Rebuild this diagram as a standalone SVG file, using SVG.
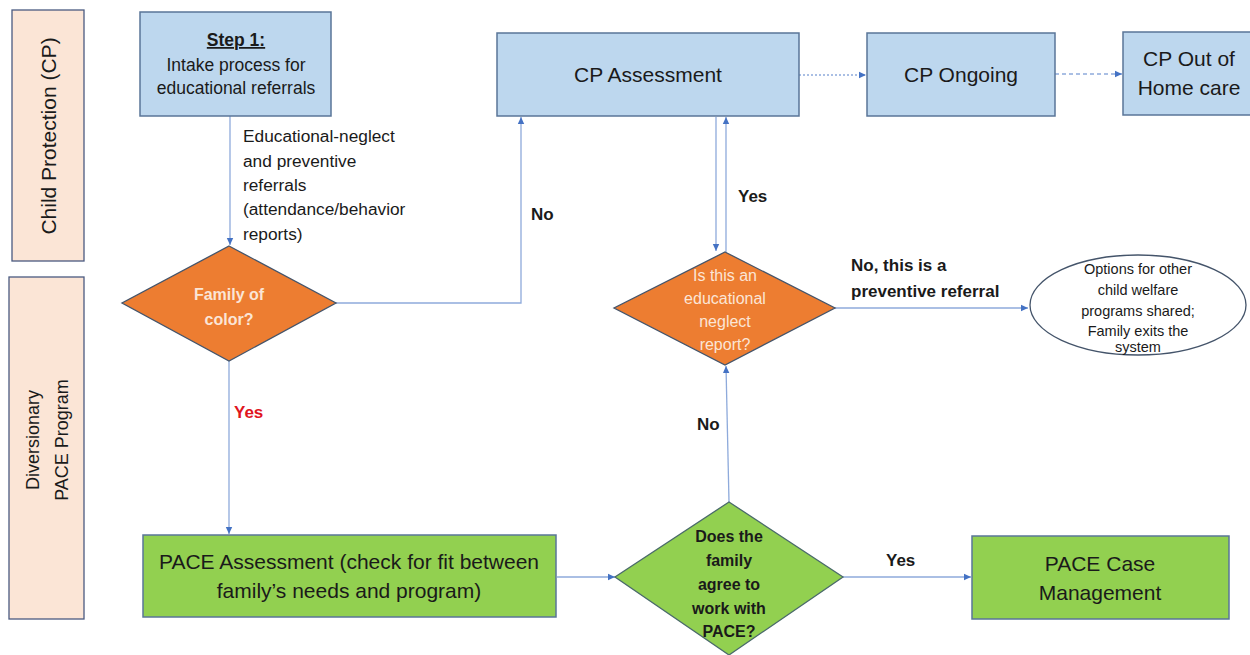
<svg xmlns="http://www.w3.org/2000/svg" width="1250" height="655" viewBox="0 0 1250 655">
<defs>
<marker id="ah" markerWidth="8" markerHeight="8" refX="7" refY="4" orient="auto" markerUnits="userSpaceOnUse">
<path d="M0,0.8 L7,4 L0,7.2 Z" fill="#4472c4"/>
</marker>
<style>
text{font-family:"Liberation Sans",Arial,sans-serif;fill:#1a1a1a}
.lane{fill:#fbe5d6;stroke:#4a5a80;stroke-width:1.3}
.blue{fill:#bdd7ee;stroke:#5a7598;stroke-width:1.5}
.green{fill:#92d050;stroke:#5a7598;stroke-width:1.5}
.orange{fill:#ed7d31;stroke:#44546a;stroke-width:1.3}
.gdia{fill:#92d050;stroke:#4a6a6a;stroke-width:1.3}
.ell{fill:#ffffff;stroke:#44546a;stroke-width:1.3}
.c{fill:none;stroke:#8eaadb;stroke-width:1.3}
.big{font-size:21px;text-anchor:middle}
.mid{font-size:17.5px;text-anchor:middle}
.lbl{font-size:17px;font-weight:bold}
.edu{font-size:17.3px}
.dtxt{font-size:16px;text-anchor:middle;fill:#fbe5d6}
.etx{font-size:14.5px;text-anchor:middle}
.gtx{font-size:16px;font-weight:bold;text-anchor:middle}
</style>
</defs>

<g id="lane-cp">
<rect class="lane" x="12" y="10" width="72" height="251"/>
<text transform="translate(56,136) rotate(-90)" text-anchor="middle" style="font-size:21px">Child Protection (CP)</text>
</g>
<g id="lane-pace">
<rect class="lane" x="9" y="277" width="75" height="342"/>
<text transform="translate(39,440) rotate(-90)" text-anchor="middle" style="font-size:18px">Diversionary</text>
<text transform="translate(68,440) rotate(-90)" text-anchor="middle" style="font-size:18px">PACE Program</text>
</g>

<g id="connectors">
<line class="c" x1="230" y1="116" x2="230" y2="245" marker-end="url(#ah)"/>
<polyline class="c" points="336,303 521,303 521,117" marker-end="url(#ah)"/>
<line x1="799" y1="75" x2="866" y2="75" stroke="#8eaadb" stroke-width="1.3" stroke-dasharray="2,2" marker-end="url(#ah)"/>
<line x1="1055" y1="74" x2="1122" y2="74" stroke="#8eaadb" stroke-width="1.3" stroke-dasharray="4,3" marker-end="url(#ah)"/>
<line class="c" x1="716" y1="117" x2="716" y2="251" marker-end="url(#ah)"/>
<line class="c" x1="726" y1="252" x2="726" y2="117" marker-end="url(#ah)"/>
<line class="c" x1="835" y1="308" x2="1028" y2="308" marker-end="url(#ah)"/>
<line class="c" x1="229" y1="361" x2="229" y2="534" marker-end="url(#ah)"/>
<line class="c" x1="557" y1="577" x2="615" y2="577" marker-end="url(#ah)"/>
<line class="c" x1="729" y1="502" x2="726" y2="366" marker-end="url(#ah)"/>
<line class="c" x1="843" y1="577" x2="971" y2="577" marker-end="url(#ah)"/>
<text class="edu" x="243" y="142">Educational-neglect</text>
<text class="edu" x="243" y="167">and preventive</text>
<text class="edu" x="243" y="191">referrals</text>
<text class="edu" x="243" y="215">(attendance/behavior</text>
<text class="edu" x="243" y="240">reports)</text>
<text class="lbl" x="531" y="220">No</text>
<text class="lbl" x="738" y="202">Yes</text>
<text class="lbl" x="851" y="271">No, this is a</text>
<text class="lbl" x="851" y="297">preventive referral</text>
<text class="lbl" x="234" y="418" style="fill:#e0141e">Yes</text>
<text class="lbl" x="697" y="430">No</text>
<text class="lbl" x="886" y="566">Yes</text>
</g>

<g id="step1">
<rect class="blue" x="140" y="12" width="191" height="104"/>
<text class="mid" x="236" y="46" style="font-weight:bold;text-decoration:underline">Step 1:</text>
<text class="mid" x="236" y="71">Intake process for</text>
<text class="mid" x="236" y="94">educational referrals</text>
</g>

<g id="cp-assessment">
<rect class="blue" x="497" y="33" width="302" height="83"/>
<text class="big" x="648" y="82">CP Assessment</text>
</g>

<g id="cp-ongoing">
<rect class="blue" x="867" y="33" width="188" height="83"/>
<text class="big" x="961" y="82">CP Ongoing</text>
</g>

<g id="cp-out-of-home">
<rect class="blue" x="1123" y="32" width="140" height="83"/>
<text class="big" x="1189" y="66">CP Out of</text>
<text class="big" x="1189" y="95">Home care</text>
</g>

<g id="family-of-color">
<polygon class="orange" points="229,246 336,303 229,361 122,303"/>
<text class="dtxt" x="229" y="300" style="font-weight:bold">Family of</text>
<text class="dtxt" x="229" y="325" style="font-weight:bold">color?</text>
</g>

<g id="edu-neglect">
<polygon class="orange" points="725,252 835,308 725,365 614,308"/>
<text class="dtxt" x="725" y="281">Is this an</text>
<text class="dtxt" x="725" y="304">educational</text>
<text class="dtxt" x="725" y="327">neglect</text>
<text class="dtxt" x="725" y="350">report?</text>
</g>

<g id="exit-options">
<ellipse class="ell" cx="1138" cy="305" rx="108" ry="50"/>
<text class="etx" x="1138" y="274">Options for other</text>
<text class="etx" x="1138" y="295">child welfare</text>
<text class="etx" x="1138" y="316">programs shared;</text>
<text class="etx" x="1138" y="336">Family exits the</text>
<text class="etx" x="1138" y="352">system</text>
</g>

<g id="pace-assessment">
<rect class="green" x="143" y="535" width="413" height="82"/>
<text class="big" x="349" y="569">PACE Assessment (check for fit between</text>
<text class="big" x="349" y="598">family’s needs and program)</text>
</g>

<g id="agree-pace">
<polygon class="gdia" points="729,502 843,577 729,655 615,577"/>
<text class="gtx" x="729" y="542">Does the</text>
<text class="gtx" x="729" y="566">family</text>
<text class="gtx" x="729" y="590">agree to</text>
<text class="gtx" x="729" y="614">work with</text>
<text class="gtx" x="729" y="637">PACE?</text>
</g>

<g id="pace-case-mgmt">
<rect class="green" x="972" y="536" width="257" height="83"/>
<text class="big" x="1100" y="571">PACE Case</text>
<text class="big" x="1100" y="600">Management</text>
</g>
</svg>
